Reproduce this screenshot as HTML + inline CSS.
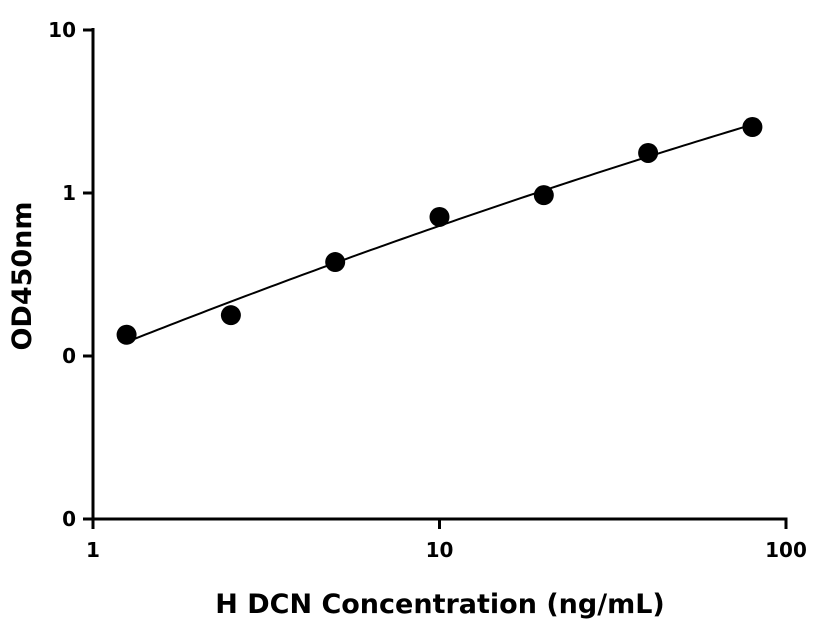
<!DOCTYPE html>
<html><head><meta charset="utf-8"><style>
html,body{margin:0;padding:0;background:#fff;}
svg{display:block;font-family:"DejaVu Sans","Liberation Sans",sans-serif;font-weight:bold;}
</style></head><body>
<svg id="chart" width="816" height="640" viewBox="0 0 816 640" xmlns="http://www.w3.org/2000/svg"></svg>
<script>
const concentrations = [1.25, 2.5, 5, 10, 20, 40, 80];
const odValues = [0.135, 0.178, 0.377, 0.713, 0.97, 1.76, 2.54];
const xTickValues = [1, 10, 100];
const xTickLabels = ["1", "10", "100"];
const yTickValues = [10, 1, 0.1, 0.01];
const yTickLabels = ["10", "1", "0", "0"];

const svg = document.getElementById('chart');
const NS = 'http://www.w3.org/2000/svg';
const X0 = 93, X1 = 786, Y0 = 519, Y1 = 30;
function xs(v){ return X0 + (Math.log10(v) - 0) / 2 * (X1 - X0); }
function ys(v){ return Y0 - (Math.log10(v) + 2) / 3 * (Y0 - Y1); }
function mk(tag, attrs){ const e = document.createElementNS(NS, tag); for (const k in attrs) e.setAttribute(k, attrs[k]); svg.appendChild(e); return e; }

// axes
let e = mk('line', {x1:X0, y1:Y1-2, x2:X0, y2:Y0+1.5, stroke:'#000', 'stroke-width':3});


e = mk('line', {x1:X0-1.5, y1:Y0, x2:X1+1.5, y2:Y0, stroke:'#000', 'stroke-width':3});



yTickValues.forEach((v, i) => {
  const y = ys(v);
  let t = mk('line', {x1:X0-10, y1:y, x2:X0, y2:y, stroke:'#000', 'stroke-width':3});
  
  
  let l = mk('text', {x:X0-17, y:y+7, 'text-anchor':'end', 'font-size':20});
  l.textContent = yTickLabels[i];
  
  
});
xTickValues.forEach((v, i) => {
  const x = xs(v);
  let t = mk('line', {x1:x, y1:Y0, x2:x, y2:Y0+10, stroke:'#000', 'stroke-width':3});
  
  
  let l = mk('text', {x:x, y:Y0+38, 'text-anchor':'middle', 'font-size':20});
  l.textContent = xTickLabels[i];
  
  
});

// quadratic fit in log-log space
const lx = concentrations.map(Math.log10), ly = odValues.map(Math.log10);
function fit(){
  const n = lx.length; let S=[0,0,0,0,0], T=[0,0,0];
  for (let i=0;i<n;i++){ let p=1; for(let k=0;k<5;k++){S[k]+=p; if(k<3) T[k]+=p*ly[i]; p*=lx[i];} }
  const A=[[S[0],S[1],S[2],T[0]],[S[1],S[2],S[3],T[1]],[S[2],S[3],S[4],T[2]]];
  for (let i=0;i<3;i++){ for(let j=i+1;j<3;j++){ const f=A[j][i]/A[i][i]; for(let k=i;k<4;k++) A[j][k]-=f*A[i][k]; } }
  const c=[0,0,0];
  for (let i=2;i>=0;i--){ let s=A[i][3]; for(let k=i+1;k<3;k++) s-=A[i][k]*c[k]; c[i]=s/A[i][i]; }
  return c;
}
const c = fit();
let d = '';
const a = lx[0], b = lx[lx.length-1];
for (let i=0;i<=100;i++){
  const u = a + (b-a)*i/100;
  const v = Math.pow(10, c[0]+c[1]*u+c[2]*u*u);
  d += (i?'L':'M') + xs(Math.pow(10,u)).toFixed(2) + ',' + ys(v).toFixed(2);
}
e = mk('path', {d:d, fill:'none', stroke:'#000', 'stroke-width':2});



concentrations.forEach((cv, i) => {
  const p = mk('circle', {cx:xs(cv), cy:ys(odValues[i]), r:10, fill:'#000'});
  
  
});

e = mk('text', {x:440, y:613, 'text-anchor':'middle', 'font-size':27});
e.textContent = 'H DCN Concentration (ng/mL)';


e = mk('text', {x:0, y:0, 'text-anchor':'middle', 'font-size':27, transform:'translate(31,276) rotate(-90)'});
e.textContent = 'OD450nm';


</script>
</body></html>
